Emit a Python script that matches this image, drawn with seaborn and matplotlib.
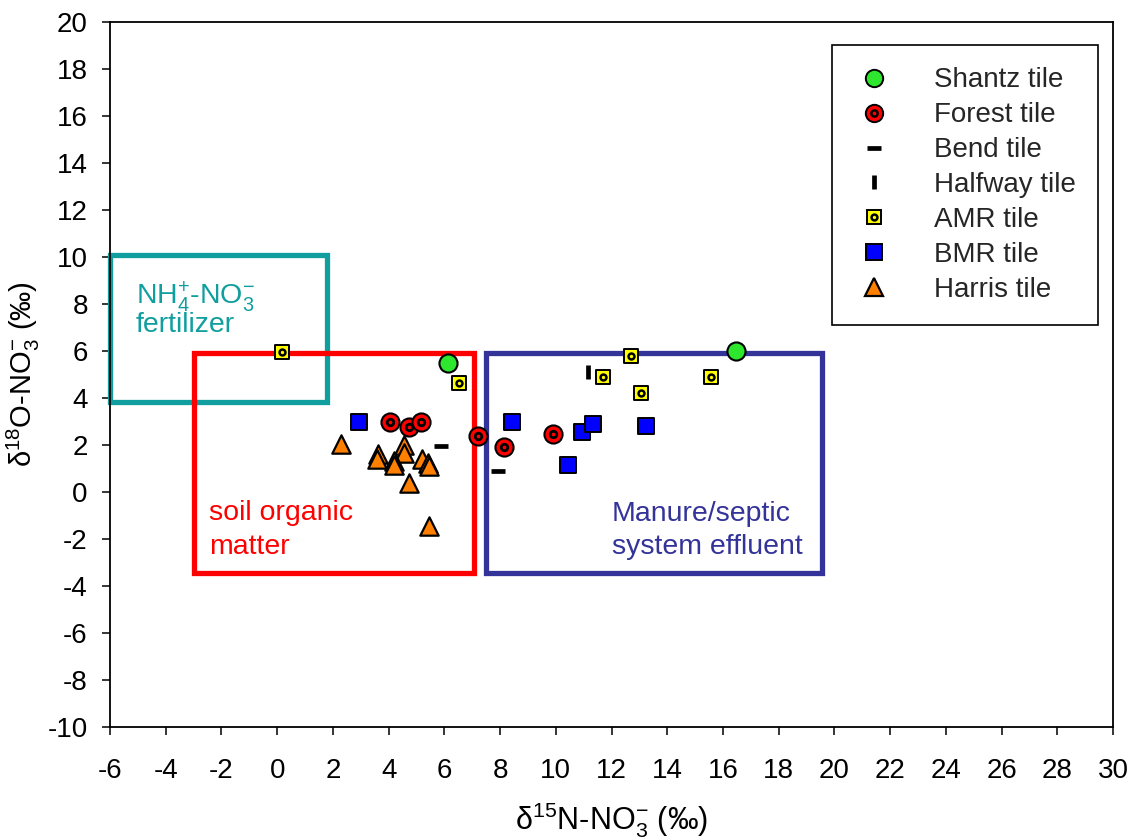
import matplotlib
matplotlib.use("Agg")
import matplotlib.pyplot as plt
import seaborn as sns
from matplotlib.patches import Rectangle
from matplotlib.lines import Line2D

# Nitrate isotope data per tile drain (d15N, d18O in permil)
shantz_x = [6.13, 16.46]
shantz_y = [5.49, 6.0]
forest_x = [4.05, 4.74, 5.15, 7.2, 8.14, 9.89]
forest_y = [3.0, 2.78, 3.0, 2.38, 1.91, 2.48]
bend_x = [5.88, 7.93]
bend_y = [1.97, 0.89]
halfway_x = [11.15]
halfway_y = [5.09]
amr_x = [0.18, 6.54, 11.68, 12.7, 13.05, 15.57]
amr_y = [5.97, 4.63, 4.88, 5.79, 4.23, 4.88]
bmr_x = [2.95, 8.44, 10.45, 10.93, 11.34, 13.25]
bmr_y = [2.99, 2.98, 1.13, 2.57, 2.88, 2.79]
harris_x = [2.28, 3.63, 3.57, 4.55, 4.55, 4.2, 4.2, 5.19, 5.43, 5.45, 4.74, 5.45]
harris_y = [2.04, 1.6, 1.39, 2.0, 1.64, 1.33, 1.15, 1.39, 1.22, 1.1, 0.37, -1.45]

series_names = ["Shantz tile", "Forest tile", "Bend tile", "Halfway tile",
                "AMR tile", "BMR tile", "Harris tile"]

# Source end-member boxes
source_x0 = [-6.0, -3.0, 7.5]
source_x1 = [1.8, 7.07, 19.56]
source_y0 = [3.83, -3.45, -3.45]
source_y1 = [10.09, 5.9, 5.9]

xticks = list(range(-6, 31, 2))
yticks = list(range(-10, 21, 2))

sns.set_theme(style="ticks")
plt.rcParams["font.family"] = ["Liberation Sans", "DejaVu Sans"]
plt.rcParams["mathtext.fontset"] = "custom"
plt.rcParams["mathtext.rm"] = "Liberation Sans"
plt.rcParams["mathtext.it"] = "Liberation Sans:italic"
plt.rcParams["mathtext.bf"] = "Liberation Sans:bold"
plt.rcParams["axes.unicode_minus"] = False

fig = plt.figure(figsize=(11.32, 8.4), dpi=100)
ax = fig.add_axes([0.0972, 0.1345, 0.886, 0.8393])

teal = "#119E9E"
red = "#FF0000"
navy = "#333399"
box_colors = [teal, red, navy]
for x0, x1, y0, y1, c in zip(source_x0, source_x1, source_y0, source_y1, box_colors):
    ax.add_patch(Rectangle((x0, y0), x1 - x0, y1 - y0, fill=False,
                           edgecolor=c, linewidth=3.8, zorder=2, clip_on=False))

green = "#2EE62E"
orange = "#FF8000"
yellow = "#FFFF00"
blue = "#0000FF"

kw = dict(ax=ax, zorder=5, legend=False)
sns.scatterplot(x=harris_x, y=harris_y, marker="^", s=175, color=orange,
                edgecolor="black", linewidth=1.6, **kw)
sns.scatterplot(x=bmr_x, y=bmr_y, marker="s", s=130, color=blue,
                edgecolor="black", linewidth=1.4, **kw)
sns.scatterplot(x=amr_x, y=amr_y, marker="s", s=115, color=yellow,
                edgecolor="black", linewidth=1.4, **kw)
sns.scatterplot(x=amr_x, y=amr_y, marker="o", s=18, color=yellow,
                edgecolor="black", linewidth=1.8, **kw)
sns.scatterplot(x=forest_x, y=forest_y, marker="o", s=170, color=red,
                edgecolor="black", linewidth=1.5, **kw)
sns.scatterplot(x=forest_x, y=forest_y, marker="o", s=22, color=red,
                edgecolor="black", linewidth=2.0, **kw)
sns.scatterplot(x=shantz_x, y=shantz_y, marker="o", s=170, color=green,
                edgecolor="black", linewidth=1.5, **kw)
sns.scatterplot(x=bend_x, y=bend_y, marker="_", s=90, color="black",
                linewidth=3.4, **kw)
sns.scatterplot(x=halfway_x, y=halfway_y, marker="|", s=90, color="black",
                linewidth=3.4, **kw)

# Box annotations
tfs = 20.5
ax.text(-5.07, 8.3, r"NH$_4^{+}$-NO$_3^{-}$", color=teal, fontsize=tfs,
        ha="left", va="center")
ax.text(-5.07, 7.1, "fertilizer", color=teal, fontsize=tfs, ha="left", va="center")
ax.text(-2.45, -0.9, "soil organic", color=red, fontsize=tfs, ha="left", va="center")
ax.text(-2.45, -2.34, "matter", color=red, fontsize=tfs, ha="left", va="center")
ax.text(12.02, -0.95, "Manure/septic", color=navy, fontsize=tfs, ha="left", va="center")
ax.text(12.02, -2.34, "system effluent", color=navy, fontsize=tfs, ha="left", va="center")

ax.set_xlim(-6, 30)
ax.set_ylim(-10, 20)
ax.set_xticks(xticks)
ax.set_yticks(yticks)
ax.tick_params(axis="both", direction="out", length=6, width=1.1,
               labelsize=20, color="black", labelcolor="black")
ax.tick_params(axis="x", pad=16)
ax.tick_params(axis="y", pad=10)
for sp in ax.spines.values():
    sp.set_linewidth(1.3)
    sp.set_color("black")
    sp.set_visible(True)

ax.set_xlabel("δ$^{15}$N-NO$_3^{-}$ (‰)", fontsize=22, labelpad=12, color="black")
ax.set_ylabel("δ$^{18}$O-NO$_3^{-}$ (‰)", fontsize=21, labelpad=4, color="black")

# Legend with composite markers for ringed symbols
def mk(marker, face, size, edge="black", mew=1.4):
    return Line2D([], [], linestyle="none", marker=marker, markerfacecolor=face,
                  markeredgecolor=edge, markersize=size, markeredgewidth=mew)

handles = [
    mk("o", green, 12.5),
    (mk("o", red, 12.5), mk("o", red, 4.5, mew=1.8)),
    mk("_", "black", 9.5, mew=3.4),
    mk("|", "black", 9.5, mew=3.4),
    (mk("s", yellow, 10.5), mk("o", yellow, 4.2, mew=1.8)),
    mk("s", blue, 11),
    mk("^", orange, 13, mew=1.6),
]
leg = ax.legend(handles, series_names, loc="upper right",
                bbox_to_anchor=(0.985, 0.967), fontsize=20, frameon=True,
                fancybox=False, edgecolor="black", framealpha=1,
                labelspacing=0.32, handletextpad=1.45, borderpad=0.8,
                borderaxespad=0, handlelength=1.42)
leg.get_frame().set_linewidth(1.2)

fig.savefig("out.png", dpi=100, facecolor="white")
